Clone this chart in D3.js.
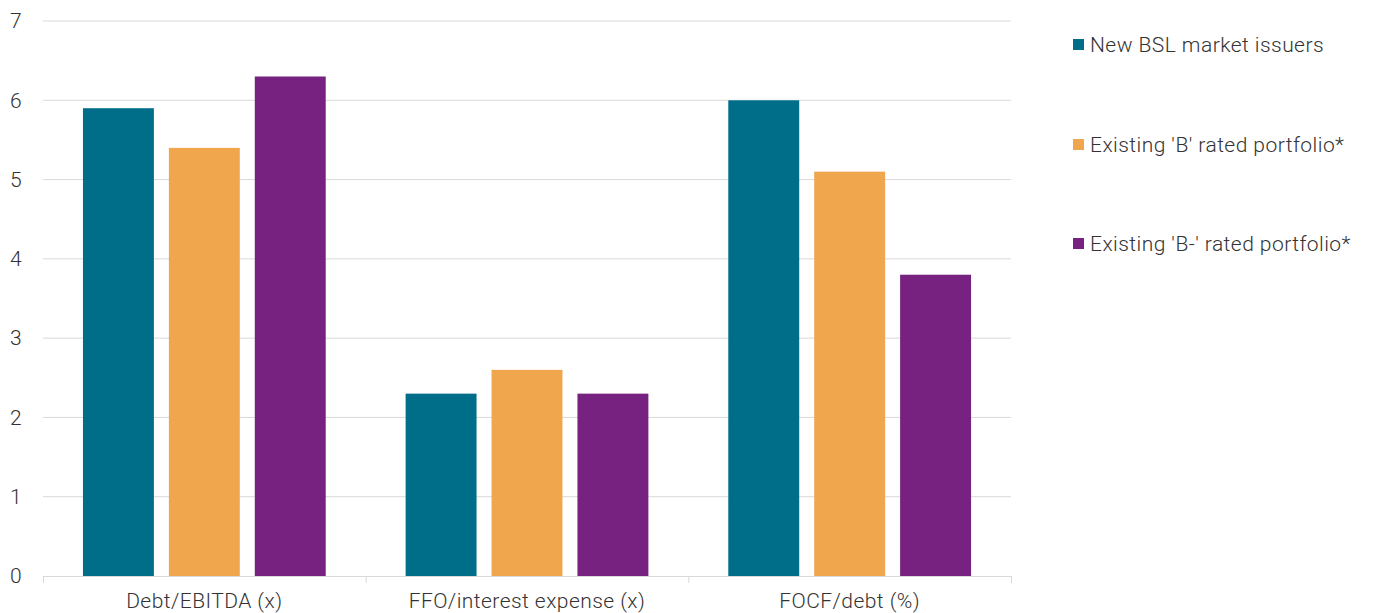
<!DOCTYPE html>
<html><head><meta charset="utf-8">
<script src="https://cdn.jsdelivr.net/npm/d3@7"></script>
<style>
body{margin:0;background:#fff;}
text{font-family:Roboto,"Noto Sans",sans-serif;fill:#333;font-weight:300;letter-spacing:0.45px;}
</style></head>
<body><svg id="c" width="1374" height="613"></svg>
<script>
const categories = ["Debt/EBITDA (x)", "FFO/interest expense (x)", "FOCF/debt (%)"];
const seriesNames = ["New BSL market issuers", "Existing 'B' rated portfolio*", "Existing 'B-' rated portfolio*"];
const newBSL = [5.9, 2.3, 6.0];
const existingB = [5.4, 2.6, 5.1];
const existingBminus = [6.3, 2.3, 3.8];
const yTicks = [0,1,2,3,4,5,6,7];
const colors = ["#006E89", "#F0A64C", "#772181"];

const series = [newBSL, existingB, existingBminus];
const svg = d3.select("#c");
const m = {left:43, right:1011, top:21, bottom:576};

const y = d3.scaleLinear().domain([0,7]).range([m.bottom, m.top]);
const x0 = d3.scaleBand().domain(categories).range([m.left, m.right]).paddingInner(0).paddingOuter(0);
const x1 = d3.scaleBand().domain(d3.range(3)).range([0, x0.bandwidth()]).paddingInner(0.1744).paddingOuter(0.465);

// gridlines
svg.append("g").selectAll("line").data(yTicks.filter(d=>d>0)).join("line")
  .attr("x1", m.left).attr("x2", m.right)
  .attr("y1", d=>y(d)).attr("y2", d=>y(d))
  .attr("stroke", "#d9d9d9").attr("stroke-width", 1);

// y labels
svg.append("g").selectAll("text").data(yTicks).join("text")
  .attr("x", 22).attr("y", d=>y(d)).attr("dy","0.35em")
  .attr("text-anchor","end").attr("font-size", 21).text(d=>d);

// bars
const g = svg.append("g");
categories.forEach((c, ci) => {
  series.forEach((s, si) => {
    g.append("rect")
      .attr("x", x0(c) + x1(si))
      .attr("width", x1.bandwidth())
      .attr("y", y(s[ci]))
      .attr("height", y(0) - y(s[ci]))
      .attr("fill", colors[si]);
  });
});

// x axis
const xa = svg.append("g");
xa.append("line").attr("x1", m.left).attr("x2", m.right).attr("y1", y(0)+0.5).attr("y2", y(0)+0.5).attr("stroke","#d9d9d9");
const bounds = categories.map(c=>x0(c)).concat([m.right]);
xa.selectAll("line.t").data(bounds).join("line").attr("class","t")
  .attr("x1", d=>d+0.5).attr("x2", d=>d+0.5).attr("y1", y(0)).attr("y2", y(0)+7).attr("stroke","#d9d9d9");
xa.selectAll("text").data(categories).join("text")
  .attr("x", d=>x0(d)+x0.bandwidth()/2).attr("y", 608)
  .attr("text-anchor","middle").attr("font-size", 21).text(d=>d);

// legend
const lg = svg.append("g");
const ly = [45, 145, 244];
seriesNames.forEach((n, i) => {
  lg.append("rect").attr("x", 1073).attr("y", ly[i]-6).attr("width", 11).attr("height", 11).attr("fill", colors[i]);
  lg.append("text").attr("x", 1090).attr("y", ly[i]).attr("dy","0.35em").attr("font-size", 21).text(n);
});
</script></body></html>
